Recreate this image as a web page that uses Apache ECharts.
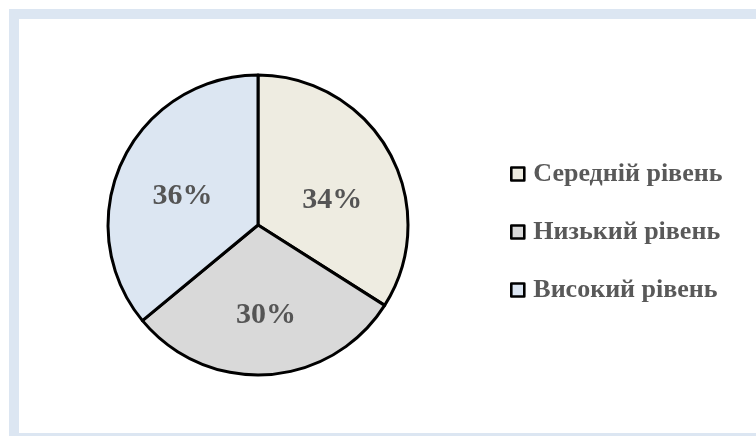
<!DOCTYPE html>
<html>
<head>
<meta charset="utf-8">
<script src="https://cdn.jsdelivr.net/npm/echarts@6/dist/echarts.min.js"></script>
<style>
  html, body { margin: 0; padding: 0; width: 756px; height: 436px; overflow: hidden; background: #fff; }
  #frame { position: absolute; left: 9px; top: 9px; width: 747px; height: 427px; background: #dce6f2; }
  #chart { position: absolute; left: 19px; top: 19px; width: 737px; height: 414px; background: #fff; }
</style>
</head>
<body>
<div id="frame"></div>
<div id="chart"></div>
<script>
const categories = ['Середній рівень', 'Низький рівень', 'Високий рівень'];
const values = [34, 30, 36];
const colors = ['#eeece1', '#d9d9d9', '#dce6f2'];
const labelShift = [[6, 13], [3, 12], [-5, 4]];

const chart = echarts.init(document.getElementById('chart'), null, { renderer: 'canvas' });
chart.setOption({
  animation: false,
  backgroundColor: '#ffffff',
  legend: {
    orient: 'vertical',
    left: 486,
    top: 137,
    itemWidth: 13,
    itemHeight: 13,
    itemGap: 32,
    icon: 'rect',
    itemStyle: { borderColor: '#000', borderWidth: 2.6 },
    textStyle: {
      fontFamily: 'Liberation Serif',
      fontWeight: 'bold',
      fontSize: 26,
      color: '#595959',
      lineHeight: 26,
      padding: [0, 0, 0, 4]
    },
    data: categories
  },
  series: [{
    type: 'pie',
    center: [239, 206],
    radius: 150,
    startAngle: 90,
    clockwise: true,
    avoidLabelOverlap: false,
    itemStyle: { borderColor: '#000', borderWidth: 3 },
    label: {
      show: true,
      position: 'inside',
      formatter: p => p.value + '%',
      fontFamily: 'Liberation Serif',
      fontWeight: 'bold',
      fontSize: 30,
      color: '#555555'
    },
    labelLayout: p => ({ dx: labelShift[p.dataIndex][0], dy: labelShift[p.dataIndex][1] }),
    labelLine: { show: false },
    emphasis: { disabled: true },
    data: categories.map((c, i) => ({ name: c, value: values[i], itemStyle: { color: colors[i] } }))
  }]
});
</script>
</body>
</html>
